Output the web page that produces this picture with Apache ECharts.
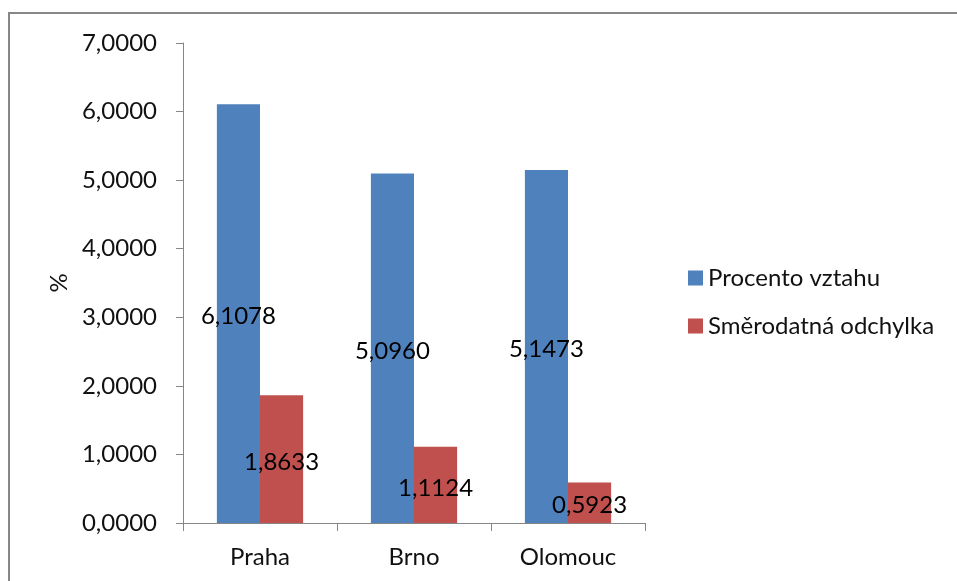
<!DOCTYPE html>
<html>
<head>
<meta charset="utf-8">
<script src="https://cdn.jsdelivr.net/npm/echarts@6/dist/echarts.min.js"></script>
<style>
  html, body { margin: 0; padding: 0; background: #fff; }
  #chart { width: 957px; height: 581px; }
</style>
</head>
<body>
<div id="chart"></div>
<script>
// Cities and the two measured series
const cities = ['Praha', 'Brno', 'Olomouc'];
const procentoVztahu = [6.1078, 5.0960, 5.1473];
const smerodatnaOdchylka = [1.8633, 1.1124, 0.5923];
const seriesNames = ['Procento vztahu', 'Směrodatná odchylka'];

const FONT = 'Lato';
const FS = 24;
const axisGrey = '#868686';
const textColor = '#111111';

// Czech number format with four decimals
const fmt = v => Number(v).toFixed(4).replace('.', ',');

const chart = echarts.init(document.getElementById('chart'));

chart.setOption({
  animation: false,
  backgroundColor: '#ffffff',
  textStyle: { fontFamily: FONT },
  graphic: [{
    type: 'rect',
    shape: { x: 9, y: 13, width: 1200, height: 1200 },
    style: { fill: 'none', stroke: '#878787', lineWidth: 2 },
    silent: true
  }],
  grid: { left: 183, top: 43, right: 312, bottom: 58, containLabel: false },
  legend: {
    orient: 'vertical',
    left: 683,
    top: 261,
    itemWidth: 15,
    itemHeight: 15,
    itemGap: 24,
    icon: 'rect',
    textStyle: { fontFamily: FONT, fontSize: FS, color: textColor },
    data: seriesNames
  },
  xAxis: {
    type: 'category',
    data: cities,
    axisLine: { lineStyle: { color: axisGrey, width: 1 } },
    axisTick: { show: true, length: 8, lineStyle: { color: axisGrey } },
    axisLabel: { margin: 22, fontFamily: FONT, fontSize: FS, color: textColor }
  },
  yAxis: {
    type: 'value',
    min: 0,
    max: 7,
    interval: 1,
    name: '%',
    nameLocation: 'middle',
    nameRotate: 90,
    nameGap: 112,
    nameTextStyle: { fontFamily: FONT, fontSize: FS, color: textColor },
    axisLine: { show: true, lineStyle: { color: axisGrey, width: 1 } },
    axisTick: { show: true, length: 7, lineStyle: { color: axisGrey } },
    splitLine: { show: false },
    axisLabel: { margin: 26, fontFamily: FONT, fontSize: FS, color: textColor, formatter: fmt }
  },
  series: [
    {
      name: seriesNames[0],
      type: 'bar',
      data: procentoVztahu,
      barGap: '0%',
      barCategoryGap: '44%',
      itemStyle: { color: '#4F81BD' },
      label: { show: true, position: 'inside', offset: [0, 3], fontFamily: FONT, fontSize: FS, color: '#000', formatter: p => fmt(p.value) }
    },
    {
      name: seriesNames[1],
      type: 'bar',
      data: smerodatnaOdchylka,
      barGap: '0%',
      barCategoryGap: '44%',
      itemStyle: { color: '#C0504D' },
      label: { show: true, position: 'inside', offset: [0, 3], fontFamily: FONT, fontSize: FS, color: '#000', formatter: p => fmt(p.value) }
    }
  ]
});
</script>
</body>
</html>
